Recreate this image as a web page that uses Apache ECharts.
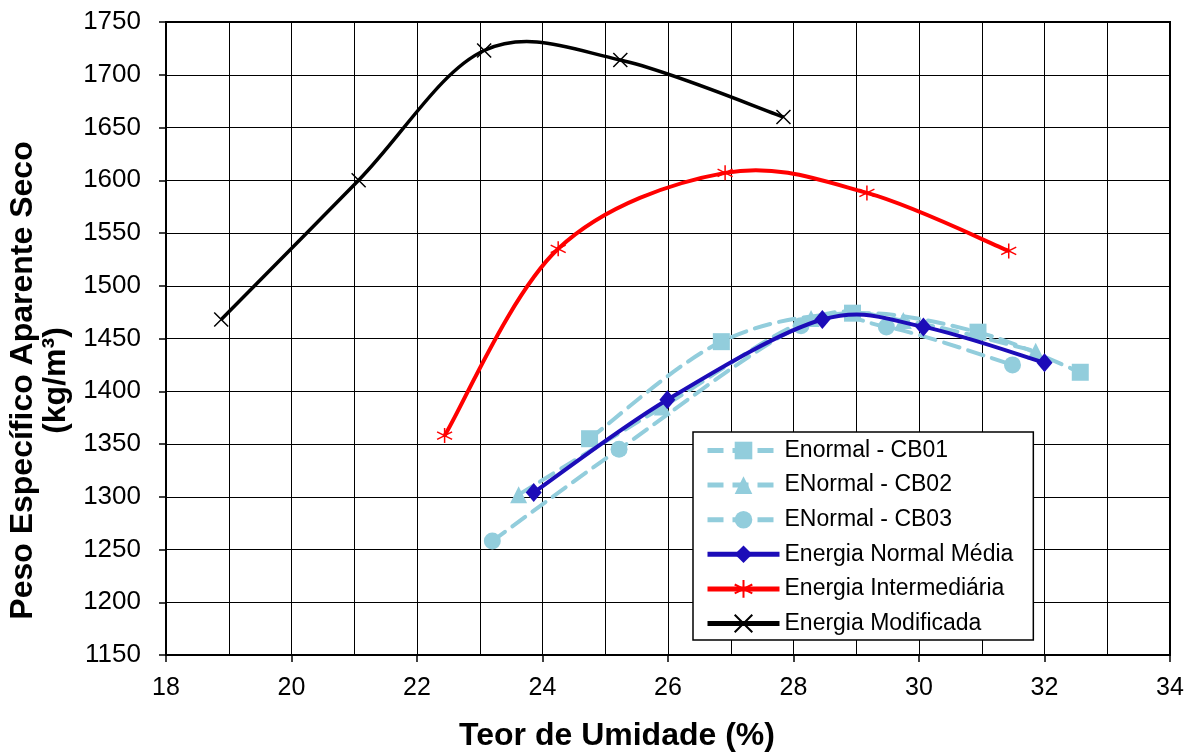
<!DOCTYPE html>
<html>
<head>
<meta charset="utf-8">
<script src="https://cdn.jsdelivr.net/npm/echarts@6/dist/echarts.min.js"></script>
<style>
html,body{margin:0;padding:0;background:#fff;}
#chart{width:1196px;height:753px;}
</style>
</head>
<body>
<div id="chart"></div>
<script>
// teor de umidade (%) e peso especifico (kg/m3)
var cb01X = [24.75, 26.85, 28.94, 30.94, 32.57];
var cb01Y = [1355, 1447, 1474, 1456, 1418];
var cb02X = [23.62, 25.91, 28.28, 29.75, 31.86];
var cb02Y = [1302, 1385, 1469, 1467, 1438];
var cb03X = [23.2, 25.22, 28.12, 29.48, 31.49];
var cb03Y = [1258, 1345, 1462, 1461, 1425];
var mediaX = [23.86, 25.99, 28.46, 30.07, 32.0];
var mediaY = [1304, 1392, 1468, 1461, 1427];
var interX = [22.44, 24.25, 26.91, 29.17, 31.43];
var interY = [1358, 1535, 1607, 1588, 1533];
var modifX = [18.88, 21.07, 23.07, 25.24, 27.84];
var modifY = [1468, 1600, 1723, 1714, 1660];

var xTicks = [18, 34, 2];        // min, max, intervalo
var yTicks = [1150, 1750, 50];

function pares(xs, ys) {
  return xs.map(function (x, i) { return [x, ys[i]]; });
}

var fonte = 'Liberation Sans, Arial, sans-serif';
var azulClaro = '#92cddc';
var azul = '#1c0cb8';
var simboloX = 'path://M0 0 L10 10 M10 0 L0 10';
var asterisco = 'path://M5 0 L5 10 M0.7 2.5 L9.3 7.5 M0.7 7.5 L9.3 2.5';

var tracejado = { color: azulClaro, width: 4, type: [16, 9], cap: 'round' };
var linhas = {
  cb01: tracejado, cb02: tracejado, cb03: tracejado,
  media: { color: azul, width: 4 },
  inter: { color: '#ff0000', width: 4 },
  modif: { color: '#000', width: 3.5 }
};

// curva suavizada tipo excel (bezier com tangente (P[i+1]-P[i-1])/6), em pixels
function curva(dados, ls, z) {
  return {
    type: 'custom',
    name: 'curva',
    silent: true,
    z: z,
    data: dados,
    encode: { x: 0, y: 1 },
    renderItem: function (params, api) {
      if (params.dataIndex !== 0) return null;
      var p = dados.map(function (d) { return api.coord(d); });
      var d = 'M' + p[0][0] + ' ' + p[0][1];
      for (var i = 0; i < p.length - 1; i++) {
        var a = p[i - 1] || p[i], b = p[i], c = p[i + 1], e = p[i + 2] || p[i + 1];
        d += ' C' + (b[0] + (c[0] - a[0]) / 6) + ' ' + (b[1] + (c[1] - a[1]) / 6) +
             ' ' + (c[0] - (e[0] - b[0]) / 6) + ' ' + (c[1] - (e[1] - b[1]) / 6) +
             ' ' + c[0] + ' ' + c[1];
      }
      return {
        type: 'path',
        shape: { pathData: d },
        style: {
          fill: 'none', stroke: ls.color, lineWidth: ls.width,
          lineDash: Array.isArray(ls.type) ? ls.type : null, lineCap: ls.cap || 'butt'
        }
      };
    }
  };
}

function marcadores(nome, simbolo, tam, dados, item, z) {
  return {
    name: nome,
    type: 'line',
    symbol: simbolo,
    symbolSize: tam,
    data: dados,
    lineStyle: { opacity: 0 },
    itemStyle: item,
    emphasis: { disabled: true },
    z: z
  };
}

function itemLegenda(nome, ls) {
  return { name: nome, lineStyle: { color: ls.color, width: 5, type: ls.type, opacity: 1 } };
}

var myChart = echarts.init(document.getElementById('chart'));
myChart.setOption({
  animation: false,
  textStyle: { fontFamily: fonte },
  grid: {
    left: 166, right: 26, top: 22, bottom: 98,
    containLabel: false,
    outerBoundsMode: 'none',
    show: true, borderColor: '#000', borderWidth: 2
  },
  legend: {
    orient: 'vertical',
    left: 693,
    top: 432,
    padding: [7, 20, 5, 12],
    itemWidth: 72,
    itemHeight: 22,
    itemGap: 11.6,
    backgroundColor: '#fff',
    borderColor: '#000',
    borderWidth: 1.5,
    borderRadius: 0,
    textStyle: { fontSize: 23, color: '#000', fontFamily: fonte },
    data: [
      itemLegenda('Enormal - CB01', linhas.cb01),
      itemLegenda('ENormal - CB02', linhas.cb02),
      itemLegenda('ENormal - CB03', linhas.cb03),
      itemLegenda('Energia Normal Média', linhas.media),
      itemLegenda('Energia Intermediária', linhas.inter),
      itemLegenda('Energia Modificada', linhas.modif)
    ]
  },
  xAxis: {
    type: 'value',
    min: xTicks[0], max: xTicks[1], interval: xTicks[2],
    name: 'Teor de Umidade (%)',
    nameLocation: 'middle',
    nameGap: 65,
    nameTextStyle: { fontSize: 32, fontWeight: 'bold', color: '#000', padding: [0, 102, 0, 0] },
    axisLine: { lineStyle: { color: '#000', width: 2 } },
    axisTick: { show: true, length: 7, lineStyle: { color: '#000', width: 1.5 } },
    axisLabel: { fontSize: 25, color: '#000', margin: 21 },
    splitLine: { show: true, lineStyle: { color: '#000', width: 1 } },
    minorTick: { show: false, splitNumber: 2 },
    minorSplitLine: { show: true, lineStyle: { color: '#000', width: 1 } }
  },
  yAxis: {
    type: 'value',
    min: yTicks[0], max: yTicks[1], interval: yTicks[2],
    name: 'Peso Específico Aparente Seco\n(kg/m³)',
    nameLocation: 'middle',
    nameGap: 91,
    nameTextStyle: { fontSize: 32, fontWeight: 'bold', color: '#000', lineHeight: 33, padding: [0, 84, 0, 0] },
    axisLine: { show: true, lineStyle: { color: '#000', width: 2 } },
    axisTick: { show: true, length: 7, lineStyle: { color: '#000', width: 1.5 } },
    axisLabel: { fontSize: 26, color: '#000', margin: 25, formatter: function (v) { return String(v); } },
    splitLine: { show: true, lineStyle: { color: '#000', width: 1 } }
  },
  series: [
    curva(pares(cb01X, cb01Y), linhas.cb01, 2),
    curva(pares(cb02X, cb02Y), linhas.cb02, 2),
    curva(pares(cb03X, cb03Y), linhas.cb03, 2),
    marcadores('Enormal - CB01', 'rect', 17, pares(cb01X, cb01Y), { color: azulClaro }, 3),
    marcadores('ENormal - CB02', 'triangle', 17, pares(cb02X, cb02Y), { color: azulClaro }, 3),
    marcadores('ENormal - CB03', 'circle', 17, pares(cb03X, cb03Y), { color: azulClaro }, 3),
    curva(pares(mediaX, mediaY), linhas.media, 4),
    curva(pares(interX, interY), linhas.inter, 4),
    curva(pares(modifX, modifY), linhas.modif, 4),
    marcadores('Energia Normal Média', 'diamond', [16, 19], pares(mediaX, mediaY), { color: azul }, 5),
    marcadores('Energia Intermediária', asterisco, 15, pares(interX, interY),
      { color: 'none', borderColor: '#ff0000', borderWidth: 1.5 }, 5),
    marcadores('Energia Modificada', simboloX, 14, pares(modifX, modifY),
      { color: 'none', borderColor: '#000', borderWidth: 1.5 }, 5)
  ]
});
</script>
</body>
</html>
